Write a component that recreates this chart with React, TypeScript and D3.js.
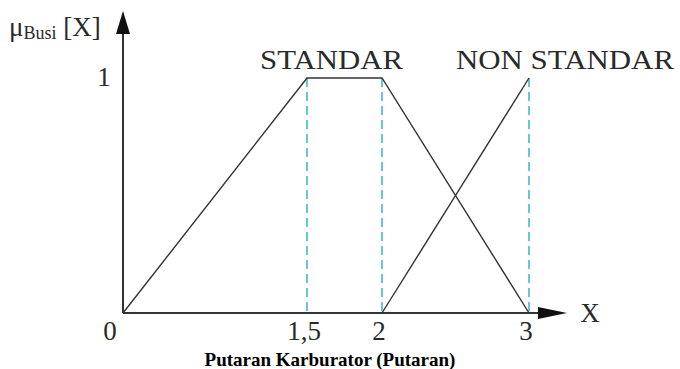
import React, { useEffect, useRef } from "react";
import * as d3 from "d3";

// membership functions
const standarX = [0, 1.5, 2, 3];
const standarY = [0, 1, 1, 0];
const nonStandarX = [2, 3];
const nonStandarY = [0, 1];
const dashedAt = [1.5, 2, 3];
const xTicks = [0, 1.5, 2, 3];
const xTickLabels = ["0", "1,5", "2", "3"];
const yTicks = [1];
const setLabels = ["STANDAR", "NON STANDAR"];

export default function App() {
  const svgRef = useRef<SVGSVGElement>(null);

  useEffect(() => {
    const w = 680;
    const h = 369;
    const svg = d3.select(svgRef.current).attr("width", w).attr("height", h);
    svg.selectAll("*").remove();

    // the drawing is not to scale, so the x scale is piecewise
    const x = d3.scaleLinear().domain([0, 1.5, 2, 3]).range([123, 307, 382, 529]);
    const y = d3.scaleLinear().domain([0, 1]).range([313, 78]);

    const serif = "'Liberation Serif', 'Times New Roman', serif";
    const ink = "#2a2a2a";

    // dashed guides
    svg.selectAll(".guide")
      .data(dashedAt)
      .join("line")
      .attr("x1", d => x(d))
      .attr("x2", d => x(d))
      .attr("y1", y(1))
      .attr("y2", y(0))
      .attr("stroke", "#3fbcc4")
      .attr("stroke-width", 1.6)
      .attr("stroke-dasharray", "9,5");

    const line = d3.line<[number, number]>()
      .x(d => x(d[0]))
      .y(d => y(d[1]));

    const series = [
      d3.zip(standarX, standarY) as [number, number][],
      d3.zip(nonStandarX, nonStandarY) as [number, number][],
    ];
    svg.selectAll(".mf")
      .data(series)
      .join("path")
      .attr("d", d => line(d))
      .attr("fill", "none")
      .attr("stroke", "#333")
      .attr("stroke-width", 1.4);

    // axes with arrow heads
    svg.append("line")
      .attr("x1", x(0)).attr("x2", 542)
      .attr("y1", y(0)).attr("y2", y(0))
      .attr("stroke", "#333").attr("stroke-width", 2);
    svg.append("path")
      .attr("d", `M538,${y(0) - 6}L567,${y(0)}L538,${y(0) + 6}Z`)
      .attr("fill", "#111");
    svg.append("line")
      .attr("x1", x(0)).attr("x2", x(0))
      .attr("y1", y(0)).attr("y2", 30)
      .attr("stroke", "#333").attr("stroke-width", 2);
    svg.append("path")
      .attr("d", `M${x(0) - 7},34L${x(0)},11L${x(0) + 7},34Z`)
      .attr("fill", "#111");

    // tick labels
    svg.selectAll(".xt")
      .data(xTicks)
      .join("text")
      .attr("x", (d, i) => (i === 0 ? x(d) - 13 : x(d) - 3))
      .attr("y", 340)
      .attr("text-anchor", "middle")
      .attr("font-family", serif)
      .attr("font-size", 27)
      .attr("fill", ink)
      .text((d, i) => xTickLabels[i]);

    svg.selectAll(".yt")
      .data(yTicks)
      .join("text")
      .attr("x", 104)
      .attr("y", d => y(d) + 8)
      .attr("text-anchor", "middle")
      .attr("font-family", serif)
      .attr("font-size", 27)
      .attr("fill", ink)
      .text(d => d);

    // set names above the peaks, a little wider than the font
    svg.selectAll(".set")
      .data(setLabels)
      .join("text")
      .attr("x", (d, i) => (i === 0 ? 260 : 456))
      .attr("y", 69)
      .attr("font-family", serif)
      .attr("font-size", 27)
      .attr("textLength", (d, i) => (i === 0 ? 143 : 218))
      .attr("lengthAdjust", "spacingAndGlyphs")
      .attr("fill", ink)
      .text(d => d);

    // axis labels
    const yl = svg.append("text")
      .attr("x", 9)
      .attr("y", 36)
      .attr("font-family", serif)
      .attr("font-size", 27)
      .attr("fill", ink);
    yl.append("tspan").text("μ");
    yl.append("tspan").attr("font-size", 18).attr("dy", 3).text("Busi");
    yl.append("tspan").attr("dy", -3).text(" [X]");

    svg.append("text")
      .attr("x", 590)
      .attr("y", 322)
      .attr("text-anchor", "middle")
      .attr("font-family", serif)
      .attr("font-size", 27)
      .attr("fill", ink)
      .text("X");

    svg.append("text")
      .attr("x", 330)
      .attr("y", 366)
      .attr("text-anchor", "middle")
      .attr("font-family", serif)
      .attr("font-size", 19)
      .attr("font-weight", "bold")
      .attr("fill", "#000")
      .text("Putaran Karburator (Putaran)");
  }, []);

  return (
    <div style={{ position: "absolute", left: 0, top: 0, background: "#fff" }}>
      <svg ref={svgRef}></svg>
    </div>
  );
}
